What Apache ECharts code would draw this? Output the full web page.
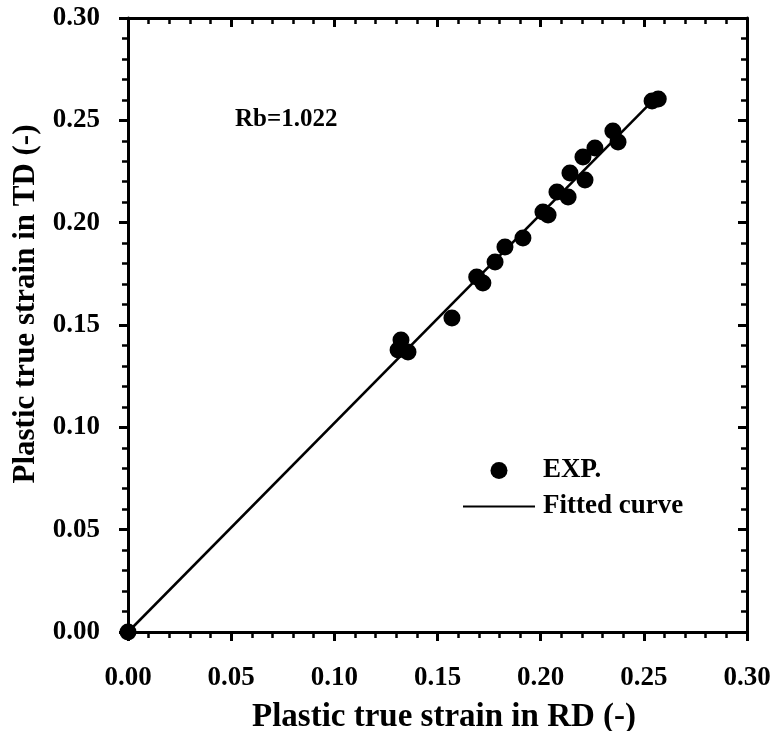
<!DOCTYPE html>
<html>
<head>
<meta charset="utf-8">
<script src="https://cdn.jsdelivr.net/npm/echarts@6/dist/echarts.min.js"></script>
<style>
  html, body { margin: 0; padding: 0; background: #fff; }
  #chart { width: 773px; height: 731px; }
</style>
</head>
<body>
<div id="chart"></div>
<script>
// Plastic strain RD vs TD - experimental points and fitted line
const rdStrain = [0.000, 0.1323, 0.1309, 0.1357, 0.157, 0.169, 0.172, 0.1779, 0.1827, 0.1914,
    0.2011, 0.2036, 0.2079, 0.2133, 0.2142, 0.2215, 0.2205, 0.2263, 0.235, 0.2375, 0.254, 0.257];
const tdStrain = [0.000, 0.1427, 0.1378, 0.1368, 0.1534, 0.1735, 0.1705, 0.1808, 0.1881, 0.1925,
    0.2052, 0.2037, 0.215, 0.2125, 0.2243, 0.2208, 0.2321, 0.2365, 0.2448, 0.2394, 0.2594, 0.2604];
const fitRD = [0, 0.2565];
const fitTD = [0, 0.2618];
const axisTicks = [0, 0.05, 0.10, 0.15, 0.20, 0.25, 0.30];

const font = "'Liberation Serif', 'Times New Roman', serif";
const axisMin = axisTicks[0];
const axisMax = axisTicks[axisTicks.length - 1];
const step = axisTicks[1] - axisTicks[0];

const chart = echarts.init(document.getElementById("chart"));

function tickLabel(margin) {
    return {
        color: "#000",
        fontFamily: font,
        fontWeight: "bold",
        fontSize: 27,
        margin: margin,
        formatter: (v) => v.toFixed(2),
    };
}

function mainAxis(extra) {
    return Object.assign({
        type: "value",
        min: axisMin,
        max: axisMax,
        interval: step,
        splitLine: { show: false },
        axisLine: { show: true, onZero: false, lineStyle: { color: "#000", width: 3 } },
        axisTick: { show: true, inside: false, length: 9, lineStyle: { color: "#000", width: 3 } },
        minorTick: { show: true, splitNumber: 5, length: 6, lineStyle: { color: "#000", width: 2.5 } },
    }, extra);
}

function mirrorAxis(extra) {
    return mainAxis(Object.assign({
        axisLabel: { show: false },
        axisTick: { show: true, inside: true, length: 9, lineStyle: { color: "#000", width: 3 } },
    }, extra));
}

const option = {
    backgroundColor: "#fff",
    animation: false,
    grid: { left: 128, right: 26, top: 18, bottom: 99, containLabel: false, outerBoundsMode: "none" },
    xAxis: [
        mainAxis({
            position: "bottom",
            name: "Plastic true strain in RD (-)",
            nameLocation: "middle",
            nameGap: 69,
            nameTextStyle: {
                color: "#000", fontFamily: font, fontWeight: "bold", fontSize: 33,
                padding: [0, 0, 0, 13],
            },
            axisLabel: tickLabel(33),
        }),
        mirrorAxis({ position: "top" }),
    ],
    yAxis: [
        mainAxis({
            position: "left",
            name: "Plastic true strain in TD (-)",
            nameLocation: "middle",
            nameGap: 86,
            nameTextStyle: {
                color: "#000", fontFamily: font, fontWeight: "bold", fontSize: 31,
                padding: [0, 0, 0, 42],
            },
            axisLabel: tickLabel(28),
        }),
        mirrorAxis({ position: "right" }),
    ],
    legend: {
        left: 457,
        top: 452,
        orient: "vertical",
        itemWidth: 72,
        itemHeight: 17,
        itemGap: 9,
        textStyle: { color: "#000", fontFamily: font, fontWeight: "bold", fontSize: 27, padding: [0, 0, 0, 3] },
        data: [
            { name: "EXP.", icon: "circle" },
            { name: "Fitted curve", itemStyle: { opacity: 0 } },
        ],
    },
    graphic: [
        {
            type: "text",
            left: 235,
            top: 107,
            style: { text: "Rb=1.022", fill: "#000", font: "bold 25px " + font },
        },
    ],
    series: [
        {
            name: "Fitted curve",
            type: "line",
            symbol: "none",
            lineStyle: { color: "#000", width: 2.5 },
            itemStyle: { color: "#000" },
            data: fitRD.map((x, i) => [x, fitTD[i]]),
            z: 2,
        },
        {
            name: "EXP.",
            type: "scatter",
            symbol: "circle",
            symbolSize: 17,
            clip: false,
            itemStyle: { color: "#000", opacity: 1 },
            data: rdStrain.map((x, i) => [x, tdStrain[i]]),
            z: 3,
        },
    ],
};

chart.setOption(option);
</script>
</body>
</html>
